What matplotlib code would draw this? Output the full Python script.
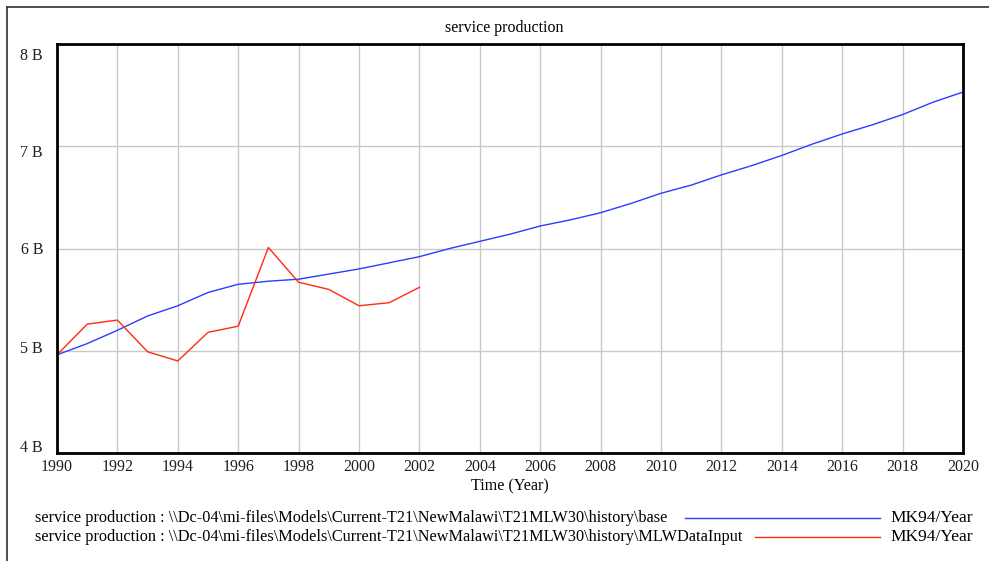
import numpy as np
import matplotlib
matplotlib.use("Agg")
import matplotlib.pyplot as plt
import matplotlib.transforms as mtransforms
from matplotlib.lines import Line2D

plt.rcParams['font.family'] = ['Liberation Serif', 'DejaVu Serif']

# données (milliards)
years_base = list(range(1990, 2021))
base = [4.96, 5.07, 5.20, 5.34, 5.44, 5.57, 5.65, 5.68, 5.70, 5.75,
        5.80, 5.86, 5.92, 6.00, 6.07, 6.14, 6.22, 6.28, 6.35, 6.44,
        6.54, 6.62, 6.72, 6.81, 6.91, 7.02, 7.12, 7.21, 7.31, 7.43, 7.53]

years_data = list(range(1990, 2003))
data_input = [4.96, 5.26, 5.30, 4.99, 4.90, 5.18, 5.24, 6.01, 5.67, 5.60,
              5.44, 5.47, 5.62]

y_ticks = [4, 5, 6, 7, 8]
y_labels = ["4 B", "5 B", "6 B", "7 B", "8 B"]
x_ticks = list(range(1990, 2021, 2))

legend_labels = [
    "service production : \\\\Dc-04\\mi-files\\Models\\Current-T21\\NewMalawi\\T21MLW30\\history\\base",
    "service production : \\\\Dc-04\\mi-files\\Models\\Current-T21\\NewMalawi\\T21MLW30\\history\\MLWDataInput",
]
unit = "MK94/Year"
blue = "#2a3cff"
red = "#ff2a10"

W, H = 989, 561
fig = plt.figure(figsize=(W / 100, H / 100), dpi=100)

# cadre extérieur (gauche et haut)
fig.add_artist(Line2D([7 / W, 7 / W], [0, 1 - 7 / H], color="#303030", lw=1.2))
fig.add_artist(Line2D([7 / W, 1], [1 - 7 / H, 1 - 7 / H], color="#303030", lw=1.2))

ax = fig.add_axes([57 / W, 1 - 453 / H, 906 / W, 409 / H])
ax.plot(years_base, base, color=blue, lw=1.0)
ax.plot(years_data, data_input, color=red, lw=1.0)

ax.set_xlim(1990, 2020)
ax.set_ylim(4, 8)
ax.set_xticks(x_ticks)
ax.set_yticks(y_ticks)
ax.set_yticklabels(y_labels)
ax.tick_params(length=0, labelsize=11.5, colors="#202020")
ax.tick_params(axis="x", pad=4)
ax.tick_params(axis="y", pad=10)
# les étiquettes de l'axe y ne tombent pas exactement sur la grille (pixels, vers le bas)
shifts = [-7, -4, 0, 5, 10]
for lab, d in zip(ax.get_yticklabels(), shifts):
    lab.set_transform(lab.get_transform()
                      + mtransforms.ScaledTranslation(0, -d / 100, fig.dpi_scale_trans))
ax.grid(True, color="#c8c8c8", lw=1.0)
ax.set_axisbelow(True)
for s in ax.spines.values():
    s.set_linewidth(2)
    s.set_color("black")

fig.text(504 / W, 1 - 28 / H, "service production", ha="center", va="center", fontsize=11.5)
fig.text(510 / W, 1 - 486 / H, "Time (Year)", ha="center", va="center", fontsize=11.6)

# légende
rows = [518, 537]
line_start = [685, 755]
for lab, y, x0, c in zip(legend_labels, rows, line_start, [blue, red]):
    fig.text(35 / W, 1 - y / H, lab, ha="left", va="center", fontsize=11.7)
    fig.add_artist(Line2D([x0 / W, 880 / W], [1 - y / H, 1 - y / H], color=c, lw=1.0))
    fig.text(890 / W, 1 - y / H, unit, ha="left", va="center", fontsize=12.5)

fig.savefig("out.png", dpi=100)
